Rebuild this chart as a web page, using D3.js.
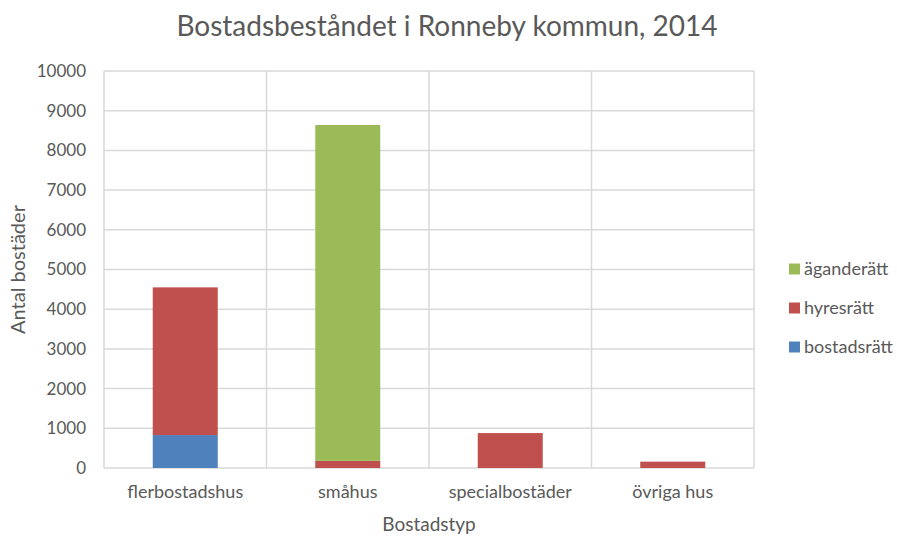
<!DOCTYPE html>
<html>
<head>
<meta charset="utf-8">
<script src="https://cdn.jsdelivr.net/npm/d3@7"></script>
<style>
  body { margin: 0; background: #fff; }
  text { font-family: Lato, "Open Sans", sans-serif; fill: #595959; }
</style>
</head>
<body>
<div id="chart"></div>
<script>
const categories = ["flerbostadshus", "småhus", "specialbostäder", "övriga hus"];
const seriesNames = ["bostadsrätt", "hyresrätt", "äganderätt"];
const bostadsratt = [830, 0, 0, 0];
const hyresratt = [3720, 180, 880, 160];
const aganderatt = [0, 8460, 0, 0];
const yTicks = [0, 1000, 2000, 3000, 4000, 5000, 6000, 7000, 8000, 9000, 10000];
const colors = { "bostadsrätt": "#4F81BD", "hyresrätt": "#C0504D", "äganderätt": "#9BBB59" };

const table = categories.map((c, i) => ({
  cat: c,
  "bostadsrätt": bostadsratt[i],
  "hyresrätt": hyresratt[i],
  "äganderätt": aganderatt[i]
}));

const W = 897, H = 536;
const margin = { top: 71, right: 143, bottom: 68, left: 104 };
const width = W - margin.left - margin.right;
const height = H - margin.top - margin.bottom;
const font = "Lato, 'Open Sans', sans-serif";

const svg = d3.select("#chart").append("svg").attr("width", W).attr("height", H);

svg.append("text")
  .attr("x", 447).attr("y", 36)
  .attr("text-anchor", "middle")
  .style("font-size", "28px")
  .text("Bostadsbeståndet i Ronneby kommun, 2014");

const g = svg.append("g").attr("transform", `translate(${margin.left},${margin.top})`);

const x = d3.scaleBand().domain(categories).range([0, width]).paddingInner(0).paddingOuter(0);
const y = d3.scaleLinear().domain([0, 10000]).range([height, 0]);

// horizontal gridlines
g.selectAll(".hgrid").data(yTicks).enter().append("line")
  .attr("x1", 0).attr("x2", width)
  .attr("y1", d => y(d)).attr("y2", d => y(d))
  .style("stroke", "#d9d9d9").style("stroke-width", 1.5);

// vertical gridlines at category boundaries
const bounds = categories.map(c => x(c)).concat([width]);
g.selectAll(".vgrid").data(bounds).enter().append("line")
  .attr("x1", d => d).attr("x2", d => d)
  .attr("y1", 0).attr("y2", height)
  .style("stroke", "#d9d9d9").style("stroke-width", 1.5);

// stacked bars
const stack = d3.stack().keys(seriesNames)(table);
const barW = x.bandwidth() * 0.4;
g.selectAll(".series").data(stack).enter().append("g")
  .style("fill", d => colors[d.key])
  .selectAll("rect").data(d => d).enter().append("rect")
  .attr("x", d => x(d.data.cat) + (x.bandwidth() - barW) / 2)
  .attr("width", barW)
  .attr("y", d => y(d[1]))
  .attr("height", d => y(d[0]) - y(d[1]));

// y axis labels
const yAxis = g.append("g")
  .call(d3.axisLeft(y).tickValues(yTicks).tickFormat(d3.format("d")).tickSize(0).tickPadding(18));
yAxis.select(".domain").remove();
yAxis.selectAll("text").style("font-size", "17px").style("fill", "#595959").style("font-family", font);

// x axis labels
const xAxis = g.append("g").attr("transform", `translate(0,${height})`)
  .call(d3.axisBottom(x).tickSize(0).tickPadding(17));
xAxis.select(".domain").remove();
xAxis.selectAll("text").style("font-size", "18px").style("fill", "#595959").style("font-family", font);

// axis titles
svg.append("text")
  .attr("x", margin.left + width / 2).attr("y", 531)
  .attr("text-anchor", "middle")
  .style("font-size", "19px")
  .text("Bostadstyp");

svg.append("text")
  .attr("transform", `translate(25,${margin.top + height / 2}) rotate(-90)`)
  .attr("text-anchor", "middle")
  .style("font-size", "20px")
  .text("Antal bostäder");

// legend
const legendItems = seriesNames.slice().reverse();
const legend = svg.append("g").attr("transform", "translate(789,269)");
legendItems.forEach((k, i) => {
  const row = legend.append("g").attr("transform", `translate(0,${i * 39})`);
  row.append("rect").attr("x", 0).attr("y", -5.5).attr("width", 11).attr("height", 11)
    .style("fill", colors[k]);
  row.append("text").attr("x", 15).attr("y", 0).attr("dy", "0.35em")
    .style("font-size", "18px").text(k);
});
</script>
</body>
</html>
